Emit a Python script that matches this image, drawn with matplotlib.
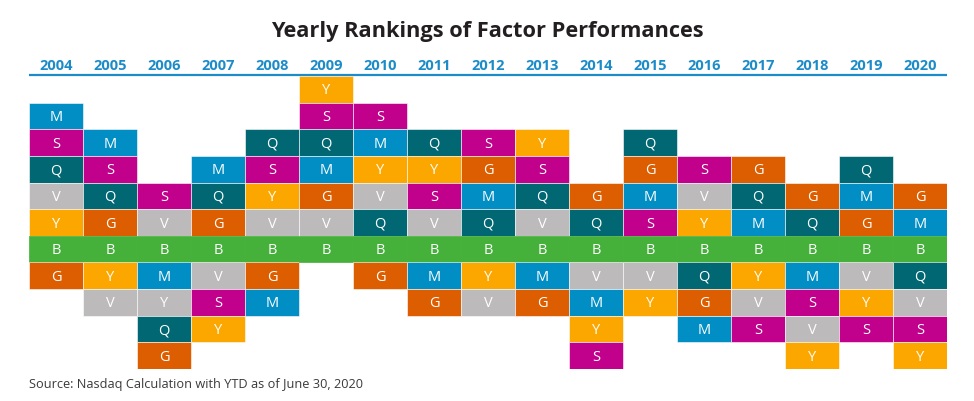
import matplotlib.pyplot as plt

# --- Data ---
years = [str(y) for y in range(2004, 2021)]
# factor order per year, best to worst (B = benchmark)
rankings = [
    ["M", "S", "Q", "V", "Y", "B", "G"],  # 2004
    ["M", "S", "Q", "G", "B", "Y", "V"],  # 2005
    ["S", "V", "B", "M", "Y", "Q", "G"],  # 2006
    ["M", "Q", "G", "B", "V", "S", "Y"],  # 2007
    ["Q", "S", "Y", "V", "B", "G", "M"],  # 2008
    ["Y", "S", "Q", "M", "G", "V", "B"],  # 2009
    ["S", "M", "Y", "V", "Q", "B", "G"],  # 2010
    ["Q", "Y", "S", "V", "B", "M", "G"],  # 2011
    ["S", "G", "M", "Q", "B", "Y", "V"],  # 2012
    ["Y", "S", "Q", "V", "B", "M", "G"],  # 2013
    ["G", "Q", "B", "V", "M", "Y", "S"],  # 2014
    ["Q", "G", "M", "S", "B", "V", "Y"],  # 2015
    ["S", "V", "Y", "B", "Q", "G", "M"],  # 2016
    ["G", "Q", "M", "B", "Y", "V", "S"],  # 2017
    ["G", "Q", "B", "M", "S", "V", "Y"],  # 2018
    ["Q", "M", "G", "B", "V", "Y", "S"],  # 2019
    ["G", "M", "B", "Q", "V", "S", "Y"],  # 2020
]
factor_colors = {
    "M": "#008ec4",
    "S": "#c1008b",
    "Q": "#006773",
    "V": "#bcbabb",
    "Y": "#fca700",
    "G": "#dc5e00",
    "B": "#45b03a",
}
# the original shows the 2006 "Y" cell filled in the "V" colour
color_overrides = {("2006", "Y"): "V"}
title = "Yearly Rankings of Factor Performances"
source = "Source: Nasdaq Calculation with YTD as of June 30, 2020"

plt.rcParams['font.family'] = ['Open Sans', 'DejaVu Sans']

W, H = 974, 402
fig = plt.figure(figsize=(W / 100, H / 100), dpi=100)
# grid area in pixels: x 29..947, y 77..370
ax = fig.add_axes([29 / W, 1 - 370 / H, (947 - 29) / W, (370 - 77) / H])
ax.set_xlim(-0.5, len(years) - 0.5)
n_rows = 11
b_row = 6
ax.set_ylim(n_rows, 0)
ax.axis('off')

for i, order in enumerate(rankings):
    b_idx = order.index("B")
    for k, f in enumerate(order):
        row = b_row - b_idx + k
        c = factor_colors[color_overrides.get((years[i], f), f)]
        if f == "B":
            ax.bar(i, 1, bottom=row, width=1.0, color=c, edgecolor=c, linewidth=0.5)
        else:
            ax.bar(i, 1, bottom=row, width=1.0, color=c, edgecolor='white', linewidth=0.4)
        ax.text(i, row + 0.52, f, ha='center', va='center', color='white',
                fontsize=10.5)

# year labels and rule underneath
for i, yr in enumerate(years):
    ax.text(i, -0.42, yr, ha='center', va='center', color='#1b8cc8',
            fontsize=10.5, fontweight='bold', clip_on=False)
ax.plot([-0.5, len(years) - 0.5], [-0.04, -0.04], color='#1b8cc8',
        linewidth=1.6, clip_on=False, solid_capstyle='butt')

fig.text(487 / W, 1 - 31 / H, title, ha='center', va='center',
         fontsize=15.7, fontweight='bold', color='#231f20')
fig.text(29 / W, 1 - 385 / H, source, ha='left', va='center',
         fontsize=9.2, color='#3a3a3a')

plt.savefig('out.png', dpi=100)
